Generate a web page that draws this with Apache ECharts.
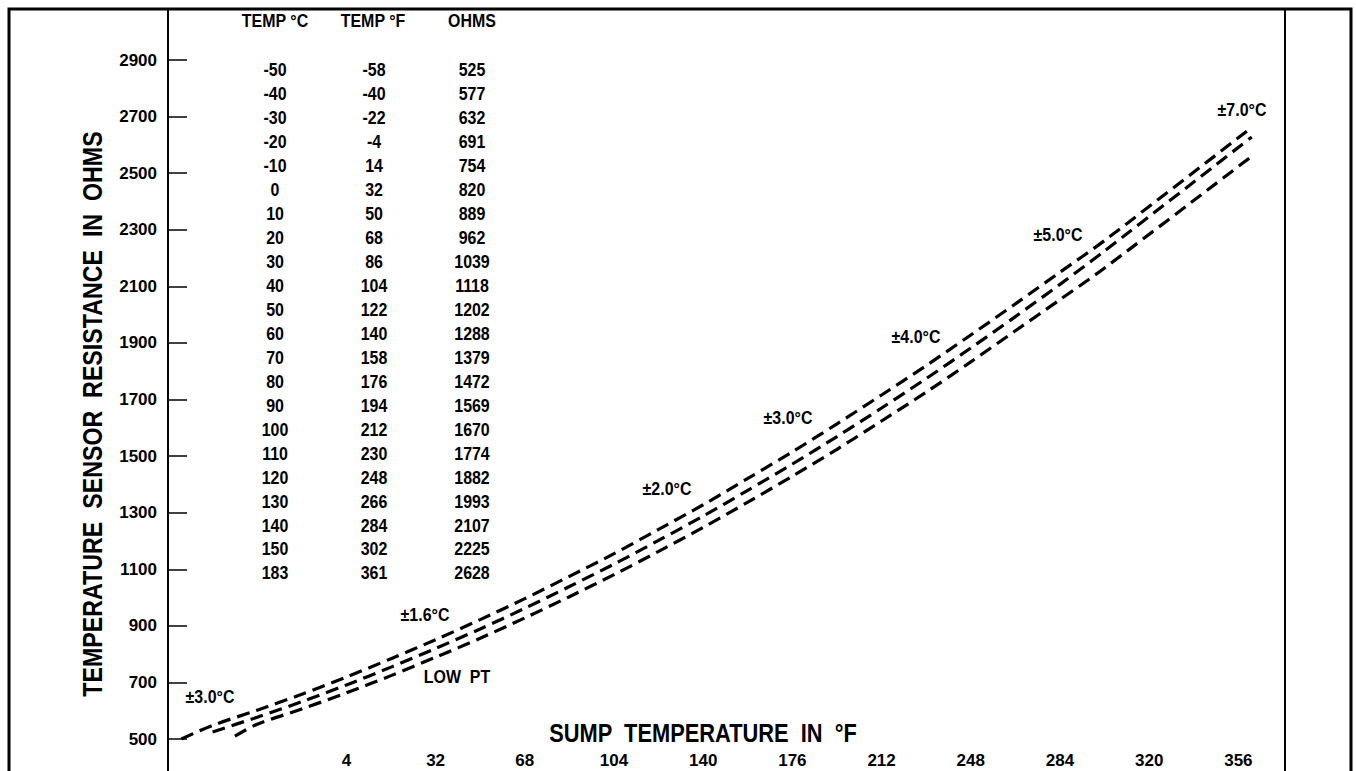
<!DOCTYPE html>
<html>
<head>
<meta charset="utf-8">
<title>Temperature sensor resistance</title>
<script src="https://cdn.jsdelivr.net/npm/echarts@6/dist/echarts.min.js"></script>
<style>
  html, body { margin: 0; padding: 0; background: #fff; }
  #chart { width: 1356px; height: 771px; }
</style>
</head>
<body>
<div id="chart"></div>
<script>
// sensor table
const tempC = [-50, -40, -30, -20, -10, 0, 10, 20, 30, 40, 50, 60, 70, 80, 90, 100, 110, 120, 130, 140, 150, 183];
const tempF = [-58, -40, -22, -4, 14, 32, 50, 68, 86, 104, 122, 140, 158, 176, 194, 212, 230, 248, 266, 284, 302, 361];
const ohms = [525, 577, 632, 691, 754, 820, 889, 962, 1039, 1118, 1202, 1288, 1379, 1472, 1569, 1670, 1774, 1882, 1993, 2107, 2225, 2628];

// upper / lower dashed lines
const upperTemps = [-57, -50, -40, -30, -20, -10, 0, 10, 20, 30, 40, 50, 60, 70, 80, 90, 100, 110, 120, 130, 140, 150, 183];
const upperOhms = [500, 548, 602, 658, 719, 784, 851, 922, 996, 1075, 1155, 1241, 1328, 1421, 1515, 1614, 1716, 1820, 1928, 2038, 2150, 2262, 2662];
const lowerTemps = [-45, -40, -30, -20, -10, 0, 10, 20, 30, 40, 50, 60, 70, 80, 90, 100, 110, 120, 130, 140, 150, 183];
const lowerOhms = [510, 552, 606, 663, 724, 789, 856, 928, 1003, 1081, 1163, 1248, 1337, 1429, 1524, 1624, 1726, 1833, 1943, 2053, 2165, 2560];

// x ticks every 20 °C, labelled in °F
const xTickC = [-20, 0, 20, 40, 60, 80, 100, 120, 140, 160, 180];
const xTickF = ['4', '32', '68', '104', '140', '176', '212', '248', '284', '320', '356'];

const tableHead = ['TEMP °C', 'TEMP °F', 'OHMS'];
const notes = ['±3.0°C', '±1.6°C', 'LOW  PT', '±2.0°C', '±3.0°C', '±4.0°C', '±5.0°C', '±7.0°C'];

const FONT = '"Liberation Sans Narrow", "Liberation Sans", Arial, sans-serif';
const chart = echarts.init(document.getElementById('chart'), null, { renderer: 'svg' });

const dashed = { color: '#000', width: 3.2, type: [13, 7] };
function line(xs, ys) {
  return {
    type: 'line',
    data: xs.map((t, i) => [t, ys[i]]),
    smooth: 0.3,
    showSymbol: false,
    lineStyle: dashed,
    silent: true
  };
}

// bold text squeezed to look like a condensed face
function txt(text, x, y, size, sx, rot) {
  return {
    type: 'text',
    x: x,
    y: y,
    scaleX: sx || 0.84,
    rotation: rot || 0,
    style: {
      text: text,
      fill: '#000',
      font: 'bold ' + size + 'px ' + FONT,
      textAlign: 'center',
      textVerticalAlign: 'middle'
    }
  };
}

const graphics = [
  { type: 'rect', shape: { x: 9, y: 9, width: 1342, height: 800 }, style: { fill: 'none', stroke: '#000', lineWidth: 3 } },
  { type: 'line', shape: { x1: 168, y1: 9, x2: 168, y2: 771 }, style: { stroke: '#000', lineWidth: 2 } },
  { type: 'line', shape: { x1: 1285, y1: 9, x2: 1285, y2: 771 }, style: { stroke: '#000', lineWidth: 2 } },
  txt(tableHead[0], 275, 21, 19),
  txt(tableHead[1], 373, 21, 19),
  txt(tableHead[2], 472, 21, 19)
];
const cols = [[tempC, 275], [tempF, 374], [ohms, 472]];
cols.forEach(function (c) {
  c[0].forEach(function (v, i) {
    graphics.push(txt(String(v), c[1], 70 + i * 23.95, 19));
  });
});
const notePos = [[210, 697], [425, 615], [457, 677], [667, 489], [788, 418], [916, 337], [1058, 235], [1242, 110]];
notes.forEach(function (n, i) {
  graphics.push(txt(n, notePos[i][0], notePos[i][1], 19));
});
graphics.push(txt('SUMP  TEMPERATURE  IN  °F', 703, 733, 26));
graphics.push(txt('TEMPERATURE  SENSOR  RESISTANCE  IN  OHMS', 92, 414, 27, 0.86, Math.PI / 2));

chart.setOption({
  animation: false,
  backgroundColor: '#fff',
  grid: { left: 168, right: 73, top: 60, bottom: 32 },
  xAxis: {
    type: 'value',
    min: -60,
    max: 190,
    interval: 20,
    axisLine: { show: false, onZero: false },
    axisTick: { show: false },
    splitLine: { show: false },
    axisLabel: {
      color: '#000',
      fontFamily: FONT,
      fontWeight: 'bold',
      fontSize: 17,
      margin: 13,
      formatter: function (v) {
        const k = xTickC.indexOf(v);
        return k < 0 ? '' : xTickF[k];
      }
    }
  },
  yAxis: {
    type: 'value',
    min: 500,
    max: 2900,
    interval: 200,
    axisLine: { show: false, onZero: false },
    axisTick: { show: true, inside: true, length: 19, lineStyle: { color: '#000', width: 1.5 } },
    splitLine: { show: false },
    axisLabel: {
      color: '#000',
      fontFamily: FONT,
      fontWeight: 'bold',
      fontSize: 17,
      margin: 11,
      formatter: function (v) { return String(v); }
    }
  },
  series: [
    line(upperTemps, upperOhms),
    line(tempC, ohms),
    line(lowerTemps, lowerOhms)
  ],
  graphic: graphics
});
</script>
</body>
</html>
